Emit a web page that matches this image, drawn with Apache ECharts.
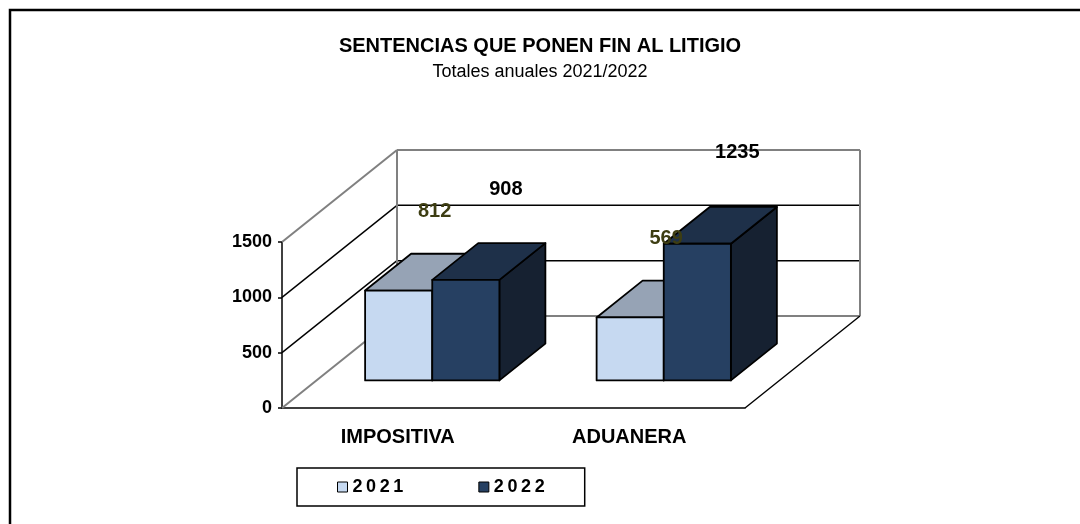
<!DOCTYPE html>
<html>
<head>
<meta charset="utf-8">
<script src="https://cdn.jsdelivr.net/npm/echarts@6/dist/echarts.min.js"></script>
<style>
  html, body { margin: 0; padding: 0; background: #fff; }
  #main { width: 1080px; height: 524px; }
</style>
</head>
<body>
<div id="main"></div>
<script>
// data
const categories = ['IMPOSITIVA', 'ADUANERA'];
const years = ['2021', '2022'];
const values2021 = [812, 569];
const values2022 = [908, 1235];
const yTicks = [0, 500, 1000, 1500];

const FONT = '"Liberation Sans", Arial, sans-serif';
// oblique projection of the 3d box (depth vector, px)
const DEPTH = [115, -92];
const BAR_FRONT = 0.3, BAR_BACK = 0.7;
const BAR_FRAC = 0.29;

const palette = [
  { front: '#c6d9f1', top: '#96a3b5', side: '#7f8ea3', label: '#3d3d12', off: [-10, -42] },
  { front: '#264062', top: '#1e3049', side: '#162131', label: '#000000', off: [-6, -54] }
];

function renderWalls(params, api) {
  const cs = params.coordSys;
  const x0 = cs.x, x1 = cs.x + cs.width;
  const dx = DEPTH[0], dy = DEPTH[1];
  const children = [];
  const line = (a, b, color, w) => children.push({
    type: 'line',
    shape: { x1: a[0], y1: a[1], x2: b[0], y2: b[1] },
    style: { stroke: color, lineWidth: w }
  });
  yTicks.forEach((v, i) => {
    const y = api.coord([0, v])[1];
    const edge = i === 0 || i === yTicks.length - 1;
    const c = edge ? '#808080' : '#000';
    const w = edge ? 2 : 1.5;
    line([x0, y], [x0 + dx, y + dy], c, w);
    line([x0 + dx, y + dy], [x1 + dx, y + dy], c, w);
  });
  const yb = api.coord([0, yTicks[0]])[1];
  const yt = api.coord([0, yTicks[yTicks.length - 1]])[1];
  line([x0 + dx, yb + dy], [x0 + dx, yt + dy], '#808080', 2);
  line([x1 + dx, yb + dy], [x1 + dx, yt + dy], '#808080', 2);
  line([x1, yb], [x1 + dx, yb + dy], '#000', 1.5);
  return { type: 'group', children: children };
}

function barRenderer(s) {
  return function (params, api) {
    const c = api.coord([api.value(0), api.value(1)]);
    const b = api.coord([api.value(0), 0]);
    const w = api.size([1, 0])[0] * BAR_FRAC;
    const fx = DEPTH[0] * BAR_FRONT, fy = DEPTH[1] * BAR_FRONT;
    const ddx = DEPTH[0] * (BAR_BACK - BAR_FRONT), ddy = DEPTH[1] * (BAR_BACK - BAR_FRONT);
    const xl = c[0] - w + s * w + fx;
    const xr = xl + w;
    const yt = c[1] + fy, yb = b[1] + fy;
    const st = { stroke: '#000', lineWidth: 1.8, lineJoin: 'round' };
    const p = palette[s];
    return {
      type: 'group',
      children: [
        { type: 'polygon', shape: { points: [[xr, yt], [xr + ddx, yt + ddy], [xr + ddx, yb + ddy], [xr, yb]] },
          style: Object.assign({ fill: p.side }, st) },
        { type: 'polygon', shape: { points: [[xl, yt], [xr, yt], [xr + ddx, yt + ddy], [xl + ddx, yt + ddy]] },
          style: Object.assign({ fill: p.top }, st) },
        { type: 'rect', shape: { x: xl, y: yt, width: w, height: yb - yt },
          style: Object.assign({ fill: p.front }, st) },
        { type: 'text', z2: 100,
          x: (xl + xr) / 2 + ddx + p.off[0], y: yt + ddy + p.off[1],
          style: { text: String(api.value(1)), fill: p.label, font: 'bold 20px ' + FONT,
                   align: 'center', verticalAlign: 'middle' } }
      ]
    };
  };
}

const seriesValues = [values2021, values2022];

const option = {
  animation: false,
  backgroundColor: '#fff',
  title: {
    text: 'SENTENCIAS QUE PONEN FIN AL LITIGIO',
    subtext: 'Totales anuales 2021/2022',
    left: 'center', top: 31, itemGap: 7,
    textStyle: { fontFamily: FONT, fontSize: 20, fontWeight: 'bold', color: '#000' },
    subtextStyle: { fontFamily: FONT, fontSize: 18, color: '#000' }
  },
  legend: {
    data: years,
    left: 297, top: 468,
    icon: 'rect', itemWidth: 10, itemHeight: 10, itemGap: 75,
    padding: [10, 40, 10, 40],
    borderColor: '#000', borderWidth: 1.5,
    itemStyle: { borderColor: '#000', borderWidth: 1 },
    textStyle: { fontFamily: FONT, fontSize: 18, fontWeight: 'bold', color: '#000' },
    formatter: n => n.split('').join('\u2009')
  },
  grid: { left: 282, right: 335, top: 242, bottom: 116 },
  xAxis: {
    type: 'category',
    data: categories,
    axisLine: { lineStyle: { color: '#000', width: 1.5 } },
    axisTick: { show: false },
    axisLabel: { margin: 19, fontFamily: FONT, fontSize: 20, fontWeight: 'bold', color: '#000' }
  },
  yAxis: {
    type: 'value', min: 0, max: 1500, interval: 500,
    axisLine: { show: true, lineStyle: { color: '#000', width: 1.5 } },
    axisTick: { show: true, length: 4, lineStyle: { color: '#000', width: 1.5 } },
    splitLine: { show: false },
    axisLabel: { margin: 10, fontFamily: FONT, fontSize: 18, fontWeight: 'bold', color: '#000',
                 formatter: v => String(v) }
  },
  graphic: [{
    type: 'rect', silent: true, z: -10,
    shape: { x: 10, y: 10, width: 1200, height: 700 },
    style: { fill: 'none', stroke: '#000', lineWidth: 2.5 }
  }],
  series: [
    {
      type: 'custom', name: 'walls', silent: true, clip: false,
      renderItem: renderWalls, data: [[0, 0]]
    }
  ].concat(years.map((y, s) => ({
    type: 'custom', name: y, clip: false,
    itemStyle: { color: palette[s].front },
    renderItem: barRenderer(s),
    data: seriesValues[s].map((v, i) => [i, v])
  })))
};

const chart = echarts.init(document.getElementById('main'));
chart.setOption(option);
</script>
</body>
</html>
